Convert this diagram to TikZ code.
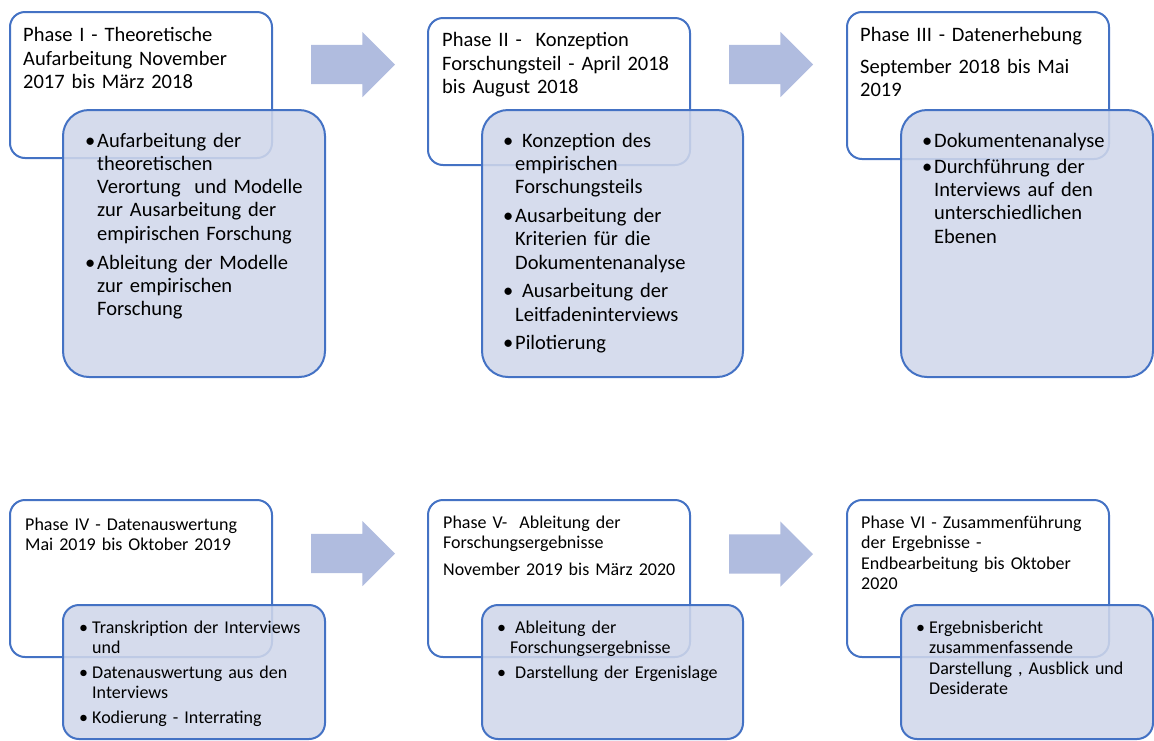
\documentclass[tikz,border=0pt]{standalone}
\usepackage{fontspec}
\setmainfont{Carlito}
\usepackage{xcolor}
\usepackage{tikz}
\usetikzlibrary{shapes.arrows, positioning}

\definecolor{phaseblue}{HTML}{4472C4}
\definecolor{listfill}{HTML}{D0D7EA}
\definecolor{arrowfill}{HTML}{B0BCDF}

\newcommand{\pbul}[1]{\makebox[#1][l]{\textbullet}}
\newcommand{\pind}[1]{\hspace*{#1}}

\tikzset{
    phasebox/.style={draw=phaseblue, line width=2pt, fill=white, rounded corners=15pt,
        minimum width=262pt, minimum height=146pt, anchor=north west, inner sep=0pt, outer sep=0pt},
    listbox/.style={draw=phaseblue, line width=2pt, fill=listfill, fill opacity=0.88, rounded corners=26pt,
        minimum width=262pt, minimum height=267pt, anchor=north west, inner sep=0pt, outer sep=0pt},
    phasearrow/.style={single arrow, fill=arrowfill, single arrow head extend=13pt, single arrow tip angle=90,
        minimum height=84pt, inner xsep=0pt, inner ysep=19.5pt, outer sep=0pt, anchor=tail},
    titletext/.style={anchor=base west, inner sep=0pt, align=left, text width=250pt,
        font=\fontsize{20.5}{23.3}\selectfont},
    listtext/.style={anchor=base west, inner sep=0pt, align=left, text width=240pt,
        font=\fontsize{20.5}{23.3}\selectfont},
    lowrow/.style={font=\fontsize{18}{20.6}\selectfont}
}

\begin{document}
\begin{tikzpicture}[x=1pt, y=-1pt]
    \useasboundingbox (0,0) rectangle (1154,740);

    \node[phasebox] (ph1) at (10,12) {};
    \node[titletext] (ph1title) at ([shift={(13,29.7)}]ph1.north west)
        {Phase I - Theoretische\\ Aufarbeitung November\\ 2017 bis März 2018};
    \node[listbox] (ph1list) at ([shift={(53,98)}]ph1.north west) {};
    \node[listtext] (ph1items) at ([shift={(22,37)}]ph1list.north west)
        {\pbul{12pt}Aufarbeitung der\\ \pind{12pt}theoretischen\\ \pind{12pt}Verortung\ \ und Modelle\\
         \pind{12pt}zur Ausarbeitung der\\ \pind{12pt}empirischen Forschung\\[5.5pt]
         \pbul{12pt}Ableitung der Modelle\\ \pind{12pt}zur empirischen\\ \pind{12pt}Forschung};

    \node[phasebox, minimum height=147pt] (ph2) at (428,18) {};
    \node[titletext] (ph2title) at ([shift={(14,28.7)}]ph2.north west)
        {Phase II -\ \ Konzeption\\ Forschungsteil - April 2018\\ bis August 2018};
    \node[listbox, minimum width=261pt] (ph2list) at ([shift={(54,92)}]ph2.north west) {};
    \node[listtext] (ph2items) at ([shift={(21,37)}]ph2list.north west)
        {\pbul{12pt}\ Konzeption des\\ \pind{12pt}empirischen\\ \pind{12pt}Forschungsteils\\[5.5pt]
         \pbul{12pt}Ausarbeitung der\\ \pind{12pt}Kriterien für die\\ \pind{12pt}Dokumentenanalyse\\[5.5pt]
         \pbul{12pt}\ Ausarbeitung der\\ \pind{12pt}Leitfadeninterviews\\[5.5pt]
         \pbul{12pt}Pilotierung};

    \node[phasebox, minimum height=147pt] (ph3) at (847,12) {};
    \node[titletext] (ph3title) at ([shift={(13,29.7)}]ph3.north west)
        {Phase III - Datenerhebung\\[8pt] September 2018 bis Mai\\ 2019};
    \node[listbox, minimum width=252pt] (ph3list) at ([shift={(54,98)}]ph3.north west) {};
    \node[listtext] (ph3items) at ([shift={(21,37)}]ph3list.north west)
        {\pbul{12pt}Dokumentenanalyse\\[3pt]
         \pbul{12pt}Durchführung der\\ \pind{12pt}Interviews auf den\\ \pind{12pt}unterschiedlichen\\ \pind{12pt}Ebenen};

    \node[phasearrow] (arr12) at (311,64.5) {};
    \node[phasearrow] (arr23) at (729,64.5) {};

    \node[phasebox, minimum height=157pt] (ph4) at (10,500) {};
    \node[titletext, lowrow] (ph4title) at ([shift={(15,30)}]ph4.north west)
        {Phase IV - Datenauswertung\\ Mai 2019 bis Oktober 2019};
    \node[listbox, minimum height=134pt, rounded corners=16pt] (ph4list) at ([shift={(53,105)}]ph4.north west) {};
    \node[listtext, lowrow] (ph4items) at ([shift={(16,28)}]ph4list.north west)
        {\pbul{13pt}Transkription der Interviews\\ \pind{13pt}und\\[4pt]
         \pbul{13pt}Datenauswertung aus den\\ \pind{13pt}Interviews\\[4pt]
         \pbul{13pt}Kodierung - Interrating};

    \node[phasebox, minimum height=157pt] (ph5) at (428,500) {};
    \node[titletext, lowrow] (ph5title) at ([shift={(15,28)}]ph5.north west)
        {Phase V-\ \ Ableitung der\\ Forschungsergebnisse\\[6pt] November 2019 bis März 2020};
    \node[listbox, minimum width=261pt, minimum height=134pt, rounded corners=16pt] (ph5list)
        at ([shift={(54,105)}]ph5.north west) {};
    \node[listtext, lowrow] (ph5items) at ([shift={(15,28)}]ph5list.north west)
        {\pbul{12pt}\ Ableitung der\\ \pind{13pt}Forschungsergebnisse\\[4pt]
         \pbul{12pt}\ Darstellung der Ergenislage};

    \node[phasebox, minimum height=157pt] (ph6) at (847,500) {};
    \node[titletext, lowrow] (ph6title) at ([shift={(14,28)}]ph6.north west)
        {Phase VI - Zusammenführung\\ der Ergebnisse -\\ Endbearbeitung bis Oktober\\ 2020};
    \node[listbox, minimum width=252pt, minimum height=134pt, rounded corners=16pt] (ph6list)
        at ([shift={(54,105)}]ph6.north west) {};
    \node[listtext, lowrow] (ph6items) at ([shift={(15,28)}]ph6list.north west)
        {\pbul{13pt}Ergebnisbericht\\ \pind{13pt}zusammenfassende\\ \pind{13pt}Darstellung , Ausblick und\\
         \pind{13pt}Desiderate};

    \node[phasearrow] (arr45) at (311,553.5) {};
    \node[phasearrow] (arr56) at (729,554) {};
\end{tikzpicture}
\end{document}
